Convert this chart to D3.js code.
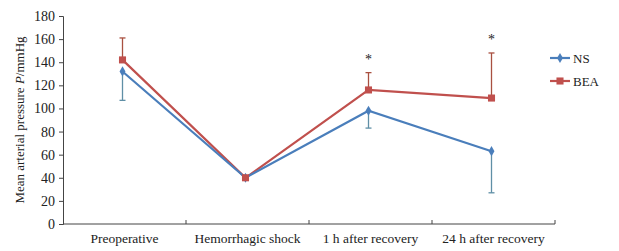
<!DOCTYPE html>
<html>
<head>
<meta charset="utf-8">
<script src="https://cdn.jsdelivr.net/npm/d3@7"></script>
<style>
  body { margin: 0; background: #fff; }
  text { font-family: "Liberation Serif", "DejaVu Serif", serif; fill: #222; }
</style>
</head>
<body>
<svg id="chart" width="619" height="251"></svg>
<script>
// Chart data
const categories = ["Preoperative", "Hemorrhagic shock", "1 h after recovery", "24 h after recovery"];
const nsValues = [132, 40, 98, 63];
const nsErrLow = [107, null, 83, 27];
const beaValues = [142, 40, 116, 109];
const beaErrHigh = [161, null, 131, 148];
const starMarks = [false, false, true, true];
const yTicks = [0, 20, 40, 60, 80, 100, 120, 140, 160, 180];

const margin = { top: 16, left: 63, bottom: 27 };
const plotRight = 555;
const height = 251;

const svg = d3.select("#chart");

const x = d3.scaleBand().domain(categories).range([margin.left, plotRight]);
const y = d3.scaleLinear().domain([0, 180]).range([height - margin.bottom, margin.top]);

const cx = (c) => x(c) + x.bandwidth() / 2 - 2;

// y axis
const yAxis = svg.append("g")
  .attr("transform", `translate(${margin.left},0)`)
  .call(d3.axisLeft(y).tickValues(yTicks).tickSize(4).tickPadding(4));
yAxis.selectAll("text").style("font-size", "14px").attr("fill", "#222");
yAxis.selectAll("line, path").attr("stroke", "#444");

// x axis, ticks point up at band edges
const xAxis = svg.append("g")
  .attr("transform", `translate(0,${y(0)})`);
xAxis.append("line")
  .attr("x1", margin.left).attr("x2", plotRight)
  .attr("stroke", "#444");
xAxis.selectAll(".tk")
  .data(categories)
  .enter()
  .append("line")
  .attr("x1", (d) => x(d) + x.bandwidth())
  .attr("x2", (d) => x(d) + x.bandwidth())
  .attr("y1", 0).attr("y2", -4)
  .attr("stroke", "#444");
xAxis.selectAll(".lbl")
  .data(categories)
  .enter()
  .append("text")
  .attr("x", (d) => x(d) + x.bandwidth() / 2)
  .attr("y", 19)
  .attr("text-anchor", "middle")
  .style("font-size", "13.5px")
  .text((d) => d);

// y axis label
const yLabel = svg.append("text")
  .attr("transform", `translate(24,${(y(0) + y(180)) / 2}) rotate(-90)`)
  .attr("text-anchor", "middle")
  .style("font-size", "13px");
yLabel.append("tspan").text("Mean arterial pressure ");
yLabel.append("tspan").style("font-style", "italic").text("P");
yLabel.append("tspan").text("/mmHg");

const nsColor = "#4a7ebb";
const beaColor = "#c0504d";

// error bars
const errBar = (vals, ends, color) => {
  categories.forEach((c, i) => {
    if (ends[i] == null) return;
    svg.append("line")
      .attr("x1", cx(c)).attr("x2", cx(c))
      .attr("y1", y(vals[i])).attr("y2", y(ends[i]))
      .attr("stroke", color).attr("stroke-width", 1.3);
    svg.append("line")
      .attr("x1", cx(c) - 3).attr("x2", cx(c) + 3)
      .attr("y1", y(ends[i])).attr("y2", y(ends[i]))
      .attr("stroke", color).attr("stroke-width", 1.3);
  });
};
errBar(nsValues, nsErrLow, "#5f8fa6");
errBar(beaValues, beaErrHigh, "#a95040");

const line = d3.line()
  .x((d, i) => cx(categories[i]))
  .y((d) => y(d));

svg.append("path").datum(beaValues)
  .attr("fill", "none").attr("stroke", beaColor).attr("stroke-width", 2.2)
  .attr("d", line);
svg.append("path").datum(nsValues)
  .attr("fill", "none").attr("stroke", nsColor).attr("stroke-width", 2.2)
  .attr("d", line);

// markers
const diamond = d3.symbol().type(d3.symbolDiamond).size(30);
const square = d3.symbol().type(d3.symbolSquare).size(50);

svg.selectAll(".ns-pt")
  .data(nsValues)
  .enter()
  .append("path")
  .attr("d", diamond)
  .attr("transform", (d, i) => `translate(${cx(categories[i])},${y(d)})`)
  .attr("fill", nsColor);

svg.selectAll(".bea-pt")
  .data(beaValues)
  .enter()
  .append("path")
  .attr("d", square)
  .attr("transform", (d, i) => `translate(${cx(categories[i])},${y(d)})`)
  .attr("fill", beaColor);

// significance stars
categories.forEach((c, i) => {
  if (!starMarks[i]) return;
  svg.append("text")
    .attr("x", cx(c))
    .attr("y", y(beaErrHigh[i]) - 9)
    .attr("text-anchor", "middle")
    .style("font-size", "14px")
    .attr("fill", "#666")
    .text("*");
});

// legend
const legend = svg.append("g").attr("transform", "translate(550,58)");
const legendItems = [
  { name: "NS", color: nsColor, sym: diamond },
  { name: "BEA", color: beaColor, sym: square }
];
legendItems.forEach((d, i) => {
  const g = legend.append("g").attr("transform", `translate(0,${i * 23})`);
  g.append("line").attr("x1", 0).attr("x2", 20)
    .attr("stroke", d.color).attr("stroke-width", 2.2);
  g.append("path").attr("d", d.sym).attr("transform", "translate(10,0)")
    .attr("fill", d.color);
  g.append("text").attr("x", 23).attr("y", 4.5)
    .style("font-size", "13px").text(d.name);
});
</script>
</body>
</html>
